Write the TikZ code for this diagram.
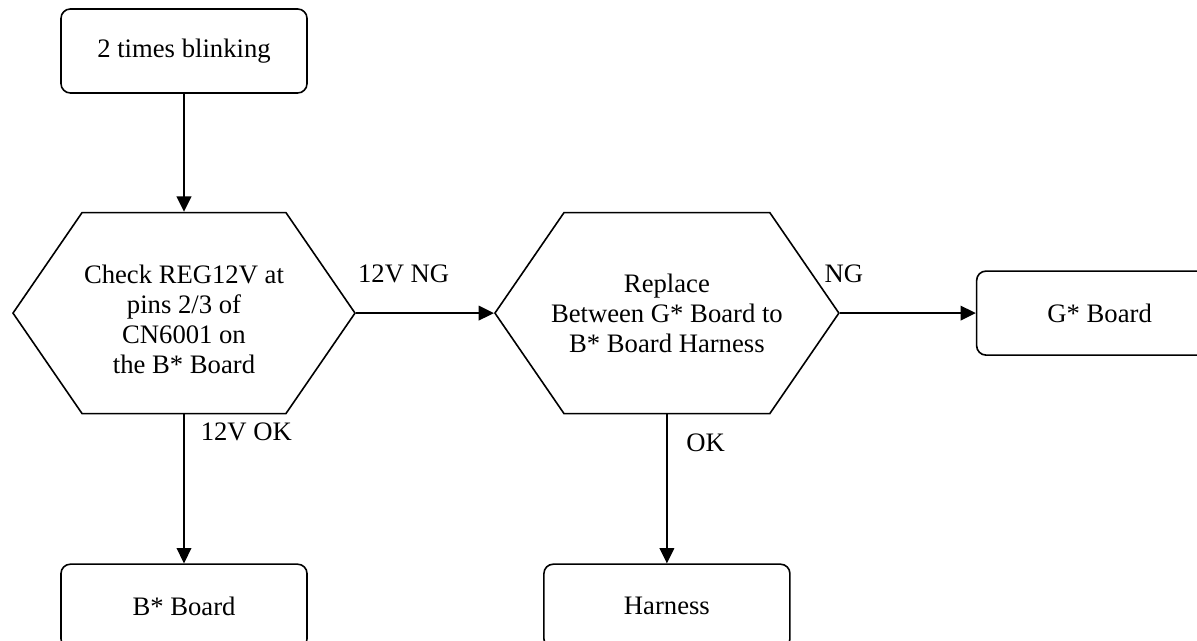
\documentclass[tikz,border=0pt]{standalone}
\usepackage{fontspec}
\setmainfont{Liberation Serif}
\usetikzlibrary{arrows.meta, positioning, shapes.symbols}

\begin{document}
\begin{tikzpicture}[
  x=0.75pt, y=-0.75pt,
  every node/.style={font=\fontsize{20}{22.5}\selectfont},
  stepbox/.style={draw, line width=1.2pt, rounded corners=7pt, align=center,
    minimum width=184.5pt, minimum height=63pt, inner sep=0pt},
  check/.style={draw, line width=1.2pt, signal, signal to=west and east,
    signal pointer angle=111, align=center, inner sep=0pt,
    minimum width=256.5pt, minimum height=150.75pt},
  flow/.style={-{Triangle[length=11.5pt, width=11pt]}, line width=1.2pt},
  lab/.style={inner sep=0pt}
]
\clip (0,0) rectangle (1197,641);
\node[stepbox] (blink) at (184,51) {2 times blinking};
\node[check, below=88.5pt of blink] (reg) {\rule{0pt}{23pt}Check REG12V at\\pins 2/3 of\\CN6001 on\\the B* Board};
\node[check, inner xsep=-9.75pt, right=103.5pt of reg] (swap) {Replace\\Between G* Board to\\B* Board Harness};
\node[stepbox, right=102pt of swap] (gboard) {G* Board};
\node[stepbox, below=111.75pt of reg] (bboard) {B* Board};
\node[stepbox, below=111.75pt of swap] (harness) {Harness};
\draw[flow] (blink) -- (reg);
\draw[flow] (reg.east) -- node[lab, pos=0, anchor=south west, xshift=1pt, yshift=22pt] {12V NG} (swap.west);
\draw[flow] (swap.east) -- node[lab, pos=0, anchor=south west, xshift=-12pt, yshift=22pt] {NG} (gboard.west);
\draw[flow] (reg.south) -- node[lab, pos=0, anchor=north west, xshift=12pt, yshift=-6pt] {12V OK} (bboard.north);
\draw[flow] (swap.south) -- node[lab, pos=0, anchor=north west, xshift=14pt, yshift=-14pt] {OK} (harness.north);
\end{tikzpicture}
\end{document}
